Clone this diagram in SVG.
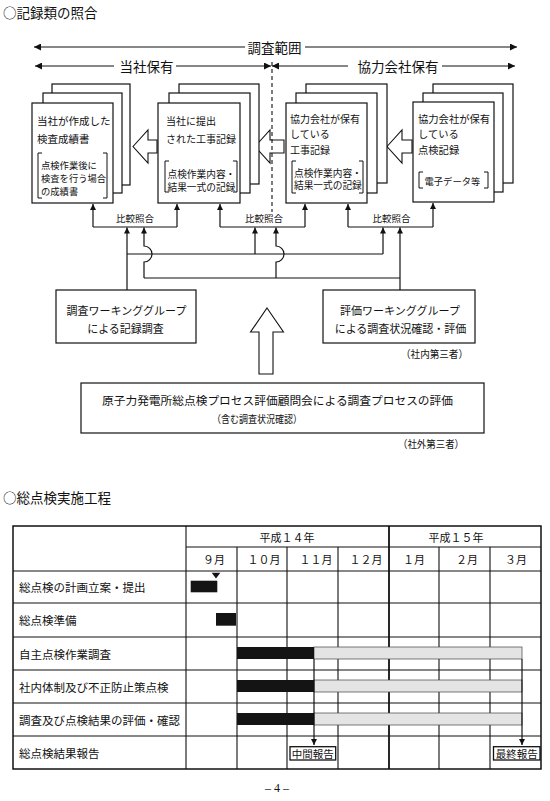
<svg xmlns="http://www.w3.org/2000/svg" width="550" height="801" viewBox="0 0 550 801">
<style>
.t{font-family:"Noto Sans CJK JP","Noto Sans CJK SC",sans-serif;fill:#111;dominant-baseline:central}
.m{text-anchor:middle}
.e{text-anchor:end}
.ln{stroke:#111;stroke-width:1.2;fill:none}
.box{fill:#fff;stroke:#111;stroke-width:1.2}
.ha{fill:#fff;stroke:#111;stroke-width:1.1}
.br{fill:none;stroke:#111;stroke-width:1}
.grid{stroke:#111;stroke-width:1.1;fill:none}
.blk{fill:#141414}
.gry{fill:#e4e4e4;stroke:#444;stroke-width:0.7}
</style>
<defs>
<marker id="ah" viewBox="0 0 10 10" refX="10" refY="5" markerWidth="8" markerHeight="7" markerUnits="userSpaceOnUse" orient="auto"><path d="M0,0 L10,5 L0,10 z" fill="#111"/></marker>
<marker id="sa" viewBox="0 0 10 10" refX="10" refY="5" markerWidth="8" markerHeight="6" markerUnits="userSpaceOnUse" orient="auto"><path d="M0,0 L10,5 L0,10 z" fill="#111"/></marker>
</defs>

<text class="t" x="3" y="12" font-size="13.5">○記録類の照合</text>

<g id="connectors">
  <path class="ln" d="M245,47 H34" marker-end="url(#ah)"/>
  <path class="ln" d="M305,47 H517" marker-end="url(#ah)"/>
  <path class="ln" d="M114,66 H35" marker-end="url(#ah)"/>
  <path class="ln" d="M176,66 H271" marker-end="url(#ah)"/>
  <path class="ln" d="M348,66 H272" marker-end="url(#ah)"/>
  <path class="ln" d="M442,66 H515" marker-end="url(#ah)"/>
  <polygon class="ha" points="133,146.5 148,130 148,140 157,140 157,153 148,153 148,163"/>
  <polygon class="ha" points="255,146.5 270,130 270,140 284,140 284,153 270,153 270,163"/>
  <polygon class="ha" points="387,146.5 402,130 402,140 412,140 412,153 402,153 402,163"/>
  <path d="M272,62 V212" stroke="#111" stroke-width="1.1" stroke-dasharray="4,3" fill="none"/>
  <path class="ln" d="M93,227 H177"/>
  <path class="ln" d="M220,227 H305"/>
  <path class="ln" d="M348,227 H433"/>
  <path class="ln" d="M93,227 V204" marker-end="url(#sa)"/>
  <path class="ln" d="M177,227 V204" marker-end="url(#sa)"/>
  <path class="ln" d="M220,227 V204" marker-end="url(#sa)"/>
  <path class="ln" d="M305,227 V204" marker-end="url(#sa)"/>
  <path class="ln" d="M348,227 V204" marker-end="url(#sa)"/>
  <path class="ln" d="M433,227 V203" marker-end="url(#sa)"/>
  <path class="ln" d="M127,290 V227.5" marker-end="url(#sa)"/>
  <path class="ln" d="M127,254 H383"/>
  <path class="ln" d="M255,254 V227.5" marker-end="url(#sa)"/>
  <path class="ln" d="M383,254 V227.5" marker-end="url(#sa)"/>
  <path class="ln" d="M400,290 V227.5" marker-end="url(#sa)"/>
  <path class="ln" d="M400,278 H144"/>
  <path class="ln" d="M144,278 V262 A8,8 0 0 0 144,246 V227.5" marker-end="url(#sa)"/>
  <path class="ln" d="M276,278 V262 A8,8 0 0 0 276,246 V227.5" marker-end="url(#sa)"/>
  <polygon class="ha" points="267,308 283.5,332 273,332 273,374 259,374 259,332 250.5,332"/>
</g>

<text class="t m" x="274.5" y="47" font-size="13.5">調査範囲</text>
<text class="t m" x="146.5" y="66" font-size="13.5">当社保有</text>
<text class="t m" x="398" y="66" font-size="13.5">協力会社保有</text>
<text class="t m" x="135" y="218" font-size="9.5">比較照合</text>
<text class="t m" x="264" y="218" font-size="9.5">比較照合</text>
<text class="t m" x="391.5" y="218" font-size="9.5">比較照合</text>

<g id="node-inspection-report">
  <rect class="box" x="52" y="84" width="78" height="101"/>
  <rect class="box" x="43" y="93" width="79" height="100"/>
  <rect class="box" x="32" y="103" width="81" height="100"/>
  <text class="t" x="37" y="120" font-size="10.5">当社が作成した</text>
  <text class="t" x="37" y="138" font-size="10.5">検査成績書</text>
  <path class="br" d="M42,153 H38 V198 H42 M103,153 H107 V198 H103"/>
  <text class="t" x="41" y="164.5" font-size="9.3">点検作業後に</text>
  <text class="t" x="41" y="177.5" font-size="9.3">検査を行う場合</text>
  <text class="t" x="41" y="191" font-size="9.3">の成績書</text>
</g>

<g id="node-submitted-records">
  <rect class="box" x="179" y="84" width="80" height="100"/>
  <rect class="box" x="169" y="93" width="81" height="100"/>
  <rect class="box" x="158" y="103" width="82" height="100"/>
  <text class="t" x="166" y="120" font-size="10">当社に提出</text>
  <text class="t" x="166" y="138" font-size="10">された工事記録</text>
  <path class="br" d="M169,161 H165 V192 H169 M233,161 H237 V192 H233"/>
  <text class="t" x="167.5" y="174" font-size="9.7">点検作業内容・</text>
  <text class="t" x="167.5" y="186.5" font-size="9.7">結果一式の記録</text>
</g>

<g id="node-partner-work-records">
  <rect class="box" x="306" y="84" width="81" height="99"/>
  <rect class="box" x="296" y="93" width="81" height="100"/>
  <rect class="box" x="286" y="103" width="81" height="100"/>
  <text class="t" x="290" y="118.5" font-size="10">協力会社が保有</text>
  <text class="t" x="290" y="133.5" font-size="10">している</text>
  <text class="t" x="290" y="149" font-size="10">工事記録</text>
  <path class="br" d="M296,161 H292 V193 H296 M359,161 H363 V193 H359"/>
  <text class="t" x="294" y="172.5" font-size="9.7">点検作業内容・</text>
  <text class="t" x="294" y="185" font-size="9.7">結果一式の記録</text>
</g>

<g id="node-partner-inspection-records">
  <rect class="box" x="433" y="84" width="80" height="99"/>
  <rect class="box" x="423" y="93" width="80" height="99"/>
  <rect class="box" x="413" y="102" width="81" height="100"/>
  <text class="t" x="418" y="118" font-size="10.3">協力会社が保有</text>
  <text class="t" x="418" y="133" font-size="10.3">している</text>
  <text class="t" x="418" y="149" font-size="10.3">点検記録</text>
  <path class="br" d="M423,172 H419 V188 H423 M484,172 H488 V188 H484"/>
  <text class="t" x="424.5" y="180.5" font-size="9.3">電子データ等</text>
</g>

<g id="node-survey-wg">
  <rect class="box" x="56" y="290" width="140" height="53"/>
  <text class="t m" x="126.5" y="310" font-size="11">調査ワーキンググループ</text>
  <text class="t m" x="125.5" y="328" font-size="11">による記録調査</text>
</g>

<g id="node-evaluation-wg">
  <rect class="box" x="323" y="290" width="152" height="53"/>
  <text class="t m" x="400" y="310" font-size="11">評価ワーキンググループ</text>
  <text class="t m" x="400.5" y="328" font-size="11">による調査状況確認・評価</text>
  <text class="t" x="401" y="353" font-size="10.5" textLength="67" lengthAdjust="spacingAndGlyphs">（社内第三者）</text>
</g>

<g id="node-advisory">
  <rect class="box" x="81" y="383" width="403" height="50"/>
  <text class="t" x="102" y="400" font-size="11.5" textLength="351" lengthAdjust="spacingAndGlyphs">原子力発電所総点検プロセス評価顧問会による調査プロセスの評価</text>
  <text class="t" x="212" y="418" font-size="10.5" textLength="90" lengthAdjust="spacingAndGlyphs">（含む調査状況確認）</text>
  <text class="t" x="398" y="443" font-size="10.5" textLength="66" lengthAdjust="spacingAndGlyphs">（社外第三者）</text>
</g>

<text class="t" x="3" y="497" font-size="13.5">○総点検実施工程</text>

<g id="schedule-table">
  <rect x="13" y="526" width="528" height="243" fill="#fff" stroke="#111" stroke-width="1.5"/>
  <path class="grid" d="M186,526 V769 M186,547 H541 M13,571 H541 M237,547 V769 M287,547 V769 M338,547 V769 M439,547 V769 M490,547 V769 M13,603 H541 M13,637 H541 M13,670 H541 M13,703 H541 M13,736 H541"/>
  <path d="M389,526 V769" stroke="#111" stroke-width="1.8"/>
  <text class="t m" x="287" y="536.5" font-size="11">平成１４年</text>
  <text class="t m" x="456" y="536.5" font-size="11">平成１５年</text>
  <text class="t m" x="214" y="559" font-size="11">９月</text>
  <text class="t m" x="264" y="559" font-size="11">１０月</text>
  <text class="t m" x="316" y="559" font-size="11">１１月</text>
  <text class="t m" x="366" y="559" font-size="11">１２月</text>
  <text class="t m" x="414" y="559" font-size="11">１月</text>
  <text class="t m" x="467" y="559" font-size="11">２月</text>
  <text class="t m" x="516" y="559" font-size="11">３月</text>
  <text class="t" x="19" y="587" font-size="11.5">総点検の計画立案・提出</text>
  <text class="t" x="19" y="620" font-size="11.5">総点検準備</text>
  <text class="t" x="19" y="653.5" font-size="11.5">自主点検作業調査</text>
  <text class="t" x="19" y="686.5" font-size="11.5">社内体制及び不正防止策点検</text>
  <text class="t" x="19" y="719.5" font-size="11.5">調査及び点検結果の評価・確認</text>
  <text class="t" x="19" y="752.5" font-size="11.5">総点検結果報告</text>
</g>

<g id="gantt-bars">
  <polygon points="211.7,572.7 220.3,572.7 216,578.5" fill="#111"/>
  <rect class="blk" x="190.7" y="580.7" width="26.6" height="11.6"/>
  <rect class="blk" x="216" y="613" width="20" height="12.7"/>
  <rect class="gry" x="314" y="647" width="208" height="12"/>
  <rect class="blk" x="237" y="647" width="77" height="12"/>
  <rect class="gry" x="314" y="680" width="208" height="12"/>
  <rect class="blk" x="237" y="680" width="77" height="12"/>
  <rect class="gry" x="314" y="713" width="208" height="12"/>
  <rect class="blk" x="237" y="713" width="77" height="12"/>
  <path class="ln" d="M314,659 V745" marker-end="url(#sa)"/>
  <path class="ln" d="M522,659 V745" marker-end="url(#sa)"/>
</g>

<g id="node-interim-report">
  <rect x="290" y="746.7" width="45.7" height="13.3" fill="#fff" stroke="#111" stroke-width="1.3"/>
  <text class="t m" x="312.8" y="753.5" font-size="10.5">中間報告</text>
</g>
<g id="node-final-report">
  <rect x="493.5" y="746.7" width="46.5" height="13.3" fill="#fff" stroke="#111" stroke-width="1.3"/>
  <text class="t m" x="516.7" y="753.5" font-size="10.5">最終報告</text>
</g>

<text x="277" y="792" font-family="Liberation Serif, serif" font-size="12" text-anchor="middle" fill="#111">– 4 –</text>
</svg>
